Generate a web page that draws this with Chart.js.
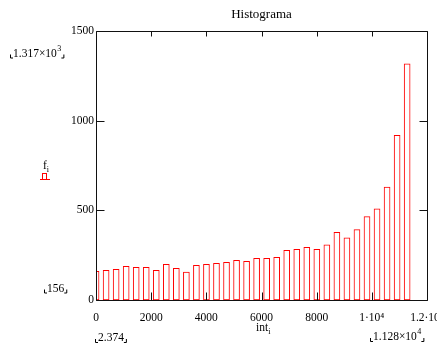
<!DOCTYPE html>
<html><head><meta charset="utf-8">
<script src="https://cdn.jsdelivr.net/npm/chart.js@4"></script>
<style>html,body{margin:0;padding:0;background:#fff;}canvas{display:block;}</style>
</head><body>
<canvas id="c" width="437" height="349"></canvas>
<script>
// Interval positions (int_i) and frequencies (f_i)
const intervals = [2.374, 366.2, 730.0, 1093.8, 1457.6, 1821.4, 2185.2, 2549.0, 2912.8, 3276.6,
  3640.4, 4004.2, 4368.0, 4731.8, 5095.6, 5459.4, 5823.2, 6187.0, 6550.8, 6914.6,
  7278.4, 7642.2, 8006.0, 8369.8, 8733.6, 9097.4, 9461.2, 9825.0, 10188.8, 10552.6,
  10916.4, 11280.2];
const frequencies = [160, 166, 171, 188, 182, 182, 166, 199, 177, 156,
  193, 199, 205, 210, 221, 216, 233, 233, 238, 277,
  283, 294, 283, 308, 377, 347, 392, 465, 509, 630,
  918, 1317];
const xTickValues = [0, 2000, 4000, 6000, 8000, 10000, 12000];
const xTickLabels = ['0', '2000', '4000', '6000', '8000', '1·10⁴', '1.2·10⁴'];
const yTickValues = [0, 500, 1000, 1500];
const yTickLabels = ['0', '500', '1000', '1500'];
const chartTitle = 'Histograma';
const yName = ['f', 'i'];
const xName = ['int', 'i'];
const yMaxMarker = ['1.317×10', '3'];
const yMinMarker = ['156', ''];
const xMinMarker = ['2.374', ''];
const xMaxMarker = ['1.128×10', '4'];

const SERIF = '"Liberation Serif", "Times New Roman", serif';

function bracket(ctx, x, y, dir) {
  ctx.beginPath();
  ctx.moveTo(x + 0.5, y - 3);
  ctx.lineTo(x + 0.5, y + 0.5);
  ctx.lineTo(x + 0.5 + 2.5 * dir, y + 0.5);
  ctx.stroke();
}
function marker(ctx, parts, x, base) {
  ctx.font = '11.5px ' + SERIF;
  ctx.textBaseline = 'alphabetic';
  ctx.textAlign = 'left';
  bracket(ctx, x - 3, base + 1, 1);
  ctx.fillText(parts[0], x, base);
  let w = ctx.measureText(parts[0]).width;
  if (parts[1]) {
    ctx.font = '8px ' + SERIF;
    ctx.fillText(parts[1], x + w + 0.5, base - 6);
    w += ctx.measureText(parts[1]).width + 0.5;
  }
  bracket(ctx, x + w + 2, base + 1, -1);
}
function subscripted(ctx, parts, x, base) {
  ctx.font = '11.5px ' + SERIF;
  ctx.textBaseline = 'alphabetic';
  ctx.textAlign = 'left';
  ctx.fillText(parts[0], x, base);
  const w = ctx.measureText(parts[0]).width;
  ctx.font = '8px ' + SERIF;
  ctx.fillText(parts[1], x + w, base + 3);
}

const framePlugin = {
  id: 'frame',
  afterDatasetsDraw(chart) {
    const { ctx, chartArea: a, scales: { x, y } } = chart;
    ctx.save();
    ctx.strokeStyle = '#111';
    ctx.lineWidth = 1;
    const L = a.left + 0.5, R = a.right + 0.5, T = a.top + 0.5, B = a.bottom + 0.5;
    ctx.beginPath();
    ctx.moveTo(L, T); ctx.lineTo(R, T); ctx.lineTo(R, B); ctx.lineTo(L, B); ctx.closePath();
    ctx.stroke();
    ctx.beginPath();
    xTickValues.forEach(v => {
      const px = Math.round(x.getPixelForValue(v)) + 0.5;
      ctx.moveTo(px, B); ctx.lineTo(px, B - 8);
      ctx.moveTo(px, T); ctx.lineTo(px, T + 5);
    });
    yTickValues.forEach(v => {
      const py = Math.round(y.getPixelForValue(v)) + 0.5;
      ctx.moveTo(L, py); ctx.lineTo(L + 8, py);
      ctx.moveTo(R, py); ctx.lineTo(R - 8, py);
    });
    ctx.stroke();
    ctx.restore();
  },
  afterDraw(chart) {
    const ctx = chart.ctx;
    ctx.save();
    ctx.fillStyle = '#000';
    ctx.strokeStyle = '#000';
    ctx.lineWidth = 1;
    marker(ctx, yMaxMarker, 13, 56.5);
    marker(ctx, yMinMarker, 47, 291.5);
    marker(ctx, xMinMarker, 98, 341);
    marker(ctx, xMaxMarker, 373, 340);
    subscripted(ctx, yName, 43, 169);
    subscripted(ctx, xName, 256, 331);
    // series symbol next to the y name
    ctx.strokeStyle = '#ff0000';
    ctx.strokeRect(42.5, 173.5, 4, 6);
    ctx.beginPath();
    ctx.moveTo(40, 179.5); ctx.lineTo(50, 179.5);
    ctx.stroke();
    ctx.restore();
  }
};

const tickFont = { family: SERIF, size: 11.5, weight: 'normal' };

new Chart(document.getElementById('c'), {
  type: 'bar',
  data: {
    datasets: [{
      data: intervals.map((v, i) => ({ x: v, y: frequencies[i] })),
      backgroundColor: '#ffffff',
      borderColor: '#ff0000',
      borderWidth: 1,
      borderSkipped: false,
      barThickness: 6
    }]
  },
  options: {
    responsive: false,
    animation: false,
    devicePixelRatio: 1,
    layout: { padding: { left: 0, right: 10, top: 0, bottom: 0 } },
    plugins: {
      legend: { display: false },
      tooltip: { enabled: false },
      title: {
        display: true, text: chartTitle, fullSize: false, color: '#000',
        font: { family: SERIF, size: 13, weight: 'normal' },
        padding: { top: 7, bottom: 8.4 }
      }
    },
    scales: {
      x: {
        type: 'linear', min: 0, max: 12000, offset: false,
        grid: { display: false, drawTicks: false, offset: false },
        border: { display: false },
        ticks: {
          stepSize: 2000, autoSkip: false, maxRotation: 0, padding: 11, color: '#000', font: tickFont,
          callback: v => { const i = xTickValues.indexOf(v); return i >= 0 ? xTickLabels[i] : ''; }
        },
        afterFit(s) { s.height = 49; s.paddingLeft = 0; s.paddingRight = 0; }
      },
      y: {
        min: 0, max: 1500,
        grid: { display: false, drawTicks: false },
        border: { display: false },
        ticks: {
          stepSize: 500, padding: 2, color: '#000', font: tickFont,
          callback: v => { const i = yTickValues.indexOf(v); return i >= 0 ? yTickLabels[i] : ''; }
        },
        afterFit(s) { s.width = 96; s.paddingTop = 0; s.paddingBottom = 0; }
      }
    }
  },
  plugins: [framePlugin]
});
</script>
</body></html>
